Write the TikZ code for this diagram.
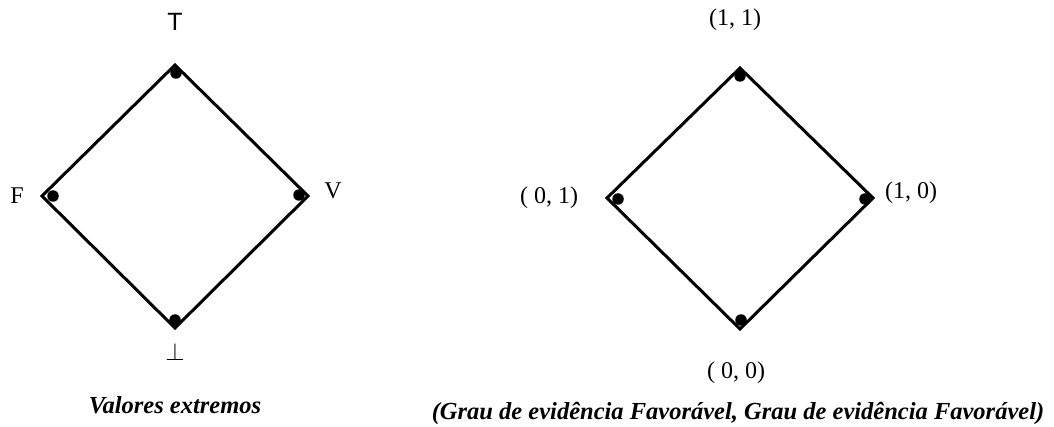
\documentclass[tikz,border=0pt]{standalone}
\usepackage{fontspec}
\setmainfont{Liberation Serif}
\newfontfamily\sansf{Liberation Sans}
\begin{document}
\begin{tikzpicture}[x=1pt,y=-1pt,
  edge/.style={line width=3pt,line join=miter},
  dot/.style={circle,fill=black,inner sep=0pt,minimum size=11.5pt},
  lbl/.style={font=\fontsize{24}{28}\selectfont,inner sep=0pt},
  captext/.style={font=\fontsize{24.5}{28}\selectfont\bfseries\itshape,inner sep=0pt}]
\useasboundingbox (0,0) rectangle (1054,427);
% left diamond
\coordinate (lt) at (175,65);
\coordinate (lr) at (308,196);
\coordinate (lb) at (175,328);
\coordinate (ll) at (42,196);
\draw[edge] (lt) -- (lr) -- (lb) -- (ll) -- cycle;
\node[dot] (dlt) at (176,73) {};
\node[dot] (dlr) at (299,195) {};
\node[dot] (dlb) at (175,320) {};
\node[dot] (dll) at (53,196) {};
\node[lbl,font=\fontsize{25}{28}\selectfont\sansf] (T) at (175,22) {T};
\node[lbl] (bot) at (175,352) {$\perp$};
\node[lbl] (F) at (17,196) {F};
\node[lbl] (V) at (333,191) {V};
\node[captext] (c1) at (175,405) {Valores extremos};
% right diamond
\coordinate (rt) at (740,68);
\coordinate (rr) at (873,198);
\coordinate (rb) at (740,329);
\coordinate (rl) at (607,198);
\draw[edge] (rt) -- (rr) -- (rb) -- (rl) -- cycle;
\node[dot] (drt) at (740,76) {};
\node[dot] (drr) at (865,199) {};
\node[dot] (drb) at (741,320) {};
\node[dot] (drl) at (618,199) {};
\node[lbl] (p11) at (735,20) {(1, 1)};
\node[lbl] (p01) at (549,198) {( 0, 1)};
\node[lbl] (p10) at (911,193) {(1, 0)};
\node[lbl] (p00) at (736,373) {( 0, 0)};
\node[captext] (c2) at (738,413) {(Grau de evidência Favorável, Grau de evidência Favorável)};
\end{tikzpicture}
\end{document}
